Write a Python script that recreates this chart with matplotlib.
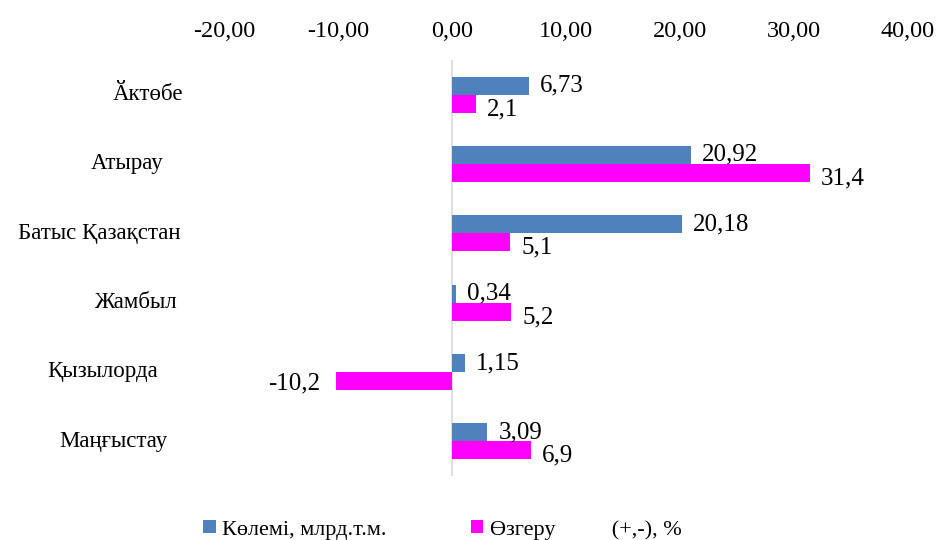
import numpy as np
import matplotlib.pyplot as plt

plt.rcParams['font.family'] = ['Liberation Serif', 'DejaVu Serif']

regions = ['Ӑктөбе', 'Атырау', 'Батыс Қазақстан', 'Жамбыл', 'Қызылорда', 'Маңғыстау']
volume = [6.73, 20.92, 20.18, 0.34, 1.15, 3.09]
change = [2.1, 31.4, 5.1, 5.2, -10.2, 6.9]
volume_labels = ['6,73', '20,92', '20,18', '0,34', '1,15', '3,09']
change_labels = ['2,1', '31,4', '5,1', '5,2', '-10,2', '6,9']
xticks = [-20, -10, 0, 10, 20, 30, 40]

blue = '#4F81BD'
pink = '#FF00FF'

fig = plt.figure(figsize=(9.39, 5.40), dpi=100)
ax = fig.add_axes([0.2386, 0.1185, 0.7284, 0.7705])

y = np.arange(len(regions))
h = 0.26
ax.barh(y - h / 2, volume, height=h, color=blue, label='Көлемі, млрд.т.м.')
ax.barh(y + h / 2, change, height=h, color=pink, label='Өзгеру          (+,-), %')

ax.set_xlim(-20, 40)
ax.set_ylim(len(regions) - 0.5, -0.5)
ax.axvline(0, color='#D9D9D9', lw=1.2, zorder=0)

for i in range(len(regions)):
    ax.annotate(volume_labels[i], (volume[i], y[i] - h / 2), xytext=(8, 0),
                textcoords='offset points', va='center', ha='left', fontsize=18)
    if change[i] >= 0:
        ax.annotate(change_labels[i], (change[i], y[i] + h / 2), xytext=(8, -4),
                    textcoords='offset points', va='center', ha='left', fontsize=18)
    else:
        ax.annotate(change_labels[i], (change[i], y[i] + h / 2), xytext=(-11, -2),
                    textcoords='offset points', va='center', ha='right', fontsize=18)

ax.xaxis.tick_top()
ax.set_xticks(xticks)
ax.set_xticklabels([('%.2f' % t).replace('.', ',') for t in xticks])
ax.tick_params(axis='x', length=0, labelsize=17.5, pad=13)

ax.set_yticks(y)
ax.set_yticklabels([])
ax.tick_params(axis='y', length=0)
label_x = [-0.111, -0.142, -0.183, -0.130, -0.177, -0.162]
for i, name in enumerate(regions):
    ax.text(label_x[i], y[i], name, transform=ax.get_yaxis_transform(),
            ha='center', va='center', fontsize=16.5)

for s in ax.spines.values():
    s.set_visible(False)

ax.legend(loc='lower left', bbox_to_anchor=(-0.053, -0.19), ncol=2, frameon=False,
          fontsize=16, handlelength=0.55, handleheight=0.55, columnspacing=3.8,
          handletextpad=0.3, borderpad=0.2)

plt.savefig('out.png', dpi=100)
